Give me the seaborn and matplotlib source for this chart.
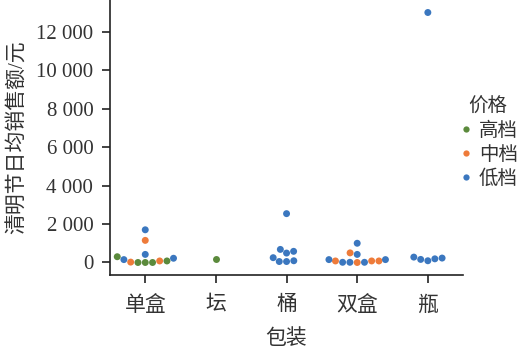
import pandas as pd
import matplotlib
matplotlib.use("Agg")
import matplotlib.pyplot as plt
import seaborn as sns
from matplotlib.ticker import FuncFormatter

sns.set_theme(style="ticks")
plt.rcParams['font.family'] = ['Liberation Serif', 'Noto Sans CJK SC', 'DejaVu Sans']

# 数据
packages = ['单盒', '坛', '桶', '双盒', '瓶']
levels = ['高档', '中档', '低档']
colors = ['#5b8a3c', '#ee7b3a', '#3b77bf']

danhe_high = [300, 80, 0, 0, 0]
danhe_mid = [80, 20, 1150]
danhe_low = [150, 420, 220, 1700]
tan_high = [200]
tong_low = [2540, 680, 490, 580, 250, 50, 50, 90]
shuanghe_mid = [500, 80, 0, 80, 80]
shuanghe_low = [1000, 420, 150, 10, 10, 10, 150]
ping_low = [13000, 280, 160, 90, 190, 230]

groups = [
    ('单盒', '高档', danhe_high), ('单盒', '中档', danhe_mid), ('单盒', '低档', danhe_low),
    ('坛', '高档', tan_high),
    ('桶', '低档', tong_low),
    ('双盒', '中档', shuanghe_mid), ('双盒', '低档', shuanghe_low),
    ('瓶', '低档', ping_low),
]
rows = []
for pkg, lvl, vals in groups:
    for v in vals:
        rows.append({'包装': pkg, '价格': lvl, '清明节日均销售额/元': v})
df = pd.DataFrame(rows)

fig = plt.figure(figsize=(5.21, 3.53), dpi=100)
ax = fig.add_axes([0.211, 0.221, 0.678, 0.779])
sns.swarmplot(data=df, x='包装', y='清明节日均销售额/元', hue='价格',
              order=packages, hue_order=levels, palette=colors, size=5, ax=ax)
sns.despine(ax=ax)

ax.set_yticks([0, 2000, 4000, 6000, 8000, 10000, 12000])
ax.yaxis.set_major_formatter(FuncFormatter(lambda v, p: f'{int(v):,}'.replace(',', ' ')))
ax.tick_params(labelsize=15, length=6, width=1.2, color='#222222', labelcolor='#333333')
ax.tick_params(axis='x', pad=9)
ax.tick_params(axis='y', pad=6)
ax.set_xlabel('包装', fontsize=15, color='#333333', labelpad=10)
ax.set_ylabel('清明节日均销售额/元', fontsize=15, color='#333333', labelpad=6)
for s in ax.spines.values():
    s.set_linewidth(1.2)
    s.set_color('#222222')

ax.legend(title='价格', loc='center left', bbox_to_anchor=(0.88, 0.595),
          bbox_transform=fig.transFigure, frameon=False, fontsize=14, title_fontsize=14,
          handletextpad=0.25, labelspacing=0.3, borderaxespad=0, borderpad=0,
          handlelength=0.8, markerscale=0.9)
for t in ax.get_legend().get_texts():
    t.set_color('#333333')
ax.get_legend().get_title().set_color('#333333')

fig.savefig('out.png', dpi=100)
